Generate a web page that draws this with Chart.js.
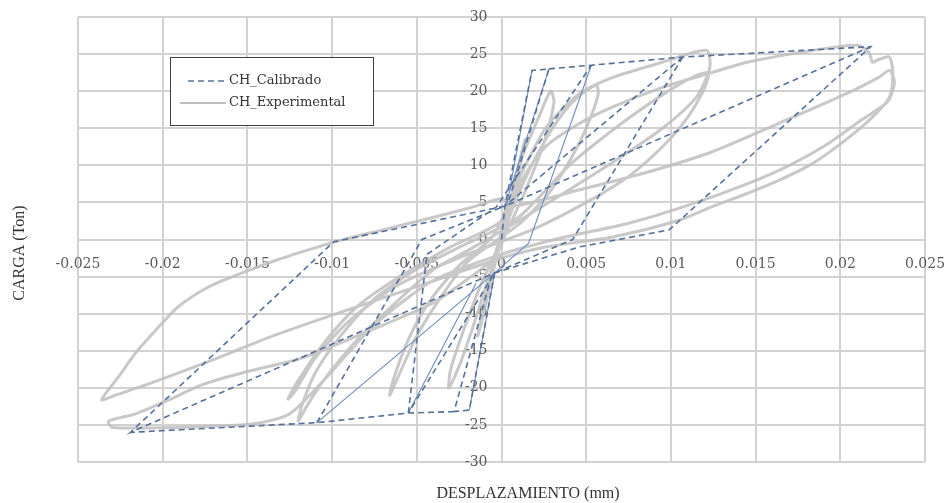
<!DOCTYPE html>
<html>
<head>
<meta charset="utf-8">
<script src="https://cdn.jsdelivr.net/npm/chart.js@4.4.1/dist/chart.umd.min.js"></script>
<style>
html,body{margin:0;padding:0;background:#fff;}
#c{display:block;}
</style>
</head>
<body>
<canvas id="c" width="948" height="503"></canvas>
<script>
// ---- axis ticks ----
const xTicks = [-0.025, -0.02, -0.015, -0.01, -0.005, 0, 0.005, 0.01, 0.015, 0.02, 0.025];
const yTicks = [-30, -25, -20, -15, -10, -5, 0, 5, 10, 15, 20, 25, 30];

// ---- CH_Experimental (gray hysteresis loops) ----
const expCycle1 = [[0,0],[0.0004,4],[0.0009,9],[0.0014,13.5],[0.0012,11],[0.0007,5.5],[0.0002,1.5],[-0.0004,-3.5],[-0.0009,-8.5],[-0.0014,-13],[-0.0012,-10.5],[-0.0007,-5],[-0.0002,-0.5]];
const expCycle2 = [[0.0004,4],[0.0012,11],[0.0022,16.5],[0.0029,20],[0.0031,18.5],[0.0025,13],[0.0014,6.5],[0.0003,1],[-0.0006,-4],[-0.0015,-10.5],[-0.0024,-16.5],[-0.0031,-20],[-0.003,-17.5],[-0.0022,-12],[-0.0012,-6],[-0.0002,-1]];
const expCycle3 = [[0.0008,5],[0.002,11],[0.0033,16],[0.0045,19.2],[0.0056,20.8],[0.0057,19.5],[0.005,15],[0.004,10.5],[0.0027,6],[0.001,2],[-0.002,-3],[-0.0035,-7.5],[-0.005,-13],[-0.006,-18],[-0.0066,-21],[-0.0064,-19],[-0.0055,-13.5],[-0.0043,-8.5],[-0.0025,-3.5],[-0.0005,0.5]];
const expCycle4 = [[0.0012,9],[0.0026,15],[0.0045,19.5],[0.0065,21.8],[0.0095,23.9],[0.0121,25.5],[0.0123,23.2],[0.0115,19.2],[0.0095,15],[0.0065,10.3],[0.0035,6],[0.001,2.5],[-0.002,-1.5],[-0.004,-4],[-0.006,-8],[-0.0085,-13.5],[-0.0105,-19],[-0.0115,-22.5],[-0.012,-24.5],[-0.0118,-22.5],[-0.011,-18],[-0.0095,-13],[-0.0075,-8],[-0.005,-4],[-0.002,-0.5],[0.001,3]];
const expCycle5 = [[0.004,10],[0.007,15.5],[0.0095,19.5],[0.0112,21.8],[0.0122,22.5],[0.012,20.5],[0.011,16.5],[0.0095,12.5],[0.0075,8.5],[0.005,5],[0.002,1.5],[-0.002,-2],[-0.006,-6],[-0.009,-11],[-0.011,-16],[-0.0122,-20.5],[-0.0126,-21.5],[-0.012,-19],[-0.0105,-14],[-0.0085,-9],[-0.006,-5],[-0.003,-1],[0,2.5]];
const expCycle6 = [[0.0012,8],[0.0026,12.5],[0.0045,15.5],[0.0065,17.8],[0.0095,20.5],[0.0124,22.5],[0.0145,23.9],[0.0184,25.5],[0.021,26.2],[0.0217,25.2],[0.0219,23.9],[0.0223,24.3],[0.0229,24.6],[0.0231,22.4],[0.0229,19.2],[0.0219,16.5],[0.0203,13.4],[0.0184,10.3],[0.0164,8],[0.0145,6.2],[0.0124,4.4],[0.0105,2.6],[0.0065,0.3],[0.0026,-1],[0,-2.5],[-0.003,-4.8],[-0.0065,-7.5],[-0.01,-10.2],[-0.0135,-13],[-0.017,-16.2],[-0.0205,-19.2],[-0.0228,-21],[-0.0236,-21.6],[-0.0226,-18.5],[-0.0216,-15.3],[-0.0204,-12.2],[-0.0191,-9.1],[-0.0173,-6.4],[-0.0153,-4.5],[-0.0133,-2.8],[-0.0114,-1.4],[-0.0098,-0.3],[-0.007,1.3],[-0.004,3],[-0.0015,4.5],[0,5.5]];
const expCycle7 = [[0.0007,4.5],[0.0046,6.7],[0.0085,9],[0.0124,11.8],[0.0164,15.7],[0.0203,19.6],[0.0223,21.9],[0.0229,22.8],[0.0232,21.2],[0.0228,18.6],[0.0213,16.2],[0.0192,12.8],[0.017,10],[0.0145,7.5],[0.011,4.6],[0.0075,2.2],[0.0035,0.2],[0,-2],[-0.004,-5.5],[-0.0075,-11.5],[-0.0105,-19],[-0.0125,-23.5],[-0.0145,-24.8],[-0.0175,-25.2],[-0.0205,-25.4],[-0.023,-25.3],[-0.0232,-24.5],[-0.0216,-23.5],[-0.0196,-21.6],[-0.0177,-19.6],[-0.015,-17.8],[-0.0118,-16],[-0.008,-12.5],[-0.004,-8.5],[-0.0015,-4.5],[0,-2]];

// ---- CH_Calibrado (dashed model branches; null = break) ----
const calBranchA = [[0,0],[0.0002,4.5],[0.0018,22.8],[0.0028,23.0],[0.0004,5]];
const calBranchB = [[-0.0004,-4.5],[-0.0019,-23.0],[-0.0028,-23.2],[-0.0006,-5]];
const calBranchC = [[0.0028,23.0],[0.0053,23.5],[0.0107,24.6],[0.0218,26],[0.0099,1.3],[0.0046,-1],[-0.0004,-4.5],[-0.0219,-26],[-0.0099,-0.3],[0.0002,4.5],[0.0218,26]];
const calBranchD = [[-0.0028,-23.2],[-0.0055,-23.4],[-0.0109,-24.7],[-0.0219,-26]];
const calBranchE = [[-0.0055,-23.4],[-0.0044,-2],[-0.0003,4.4],[0.0053,23.5]];
const calBranchF = [[0.0107,24.6],[0.0002,4.5]];
const calBranchG = [[0.0107,24.6],[0.0042,0],[-0.0004,-4.5],[-0.0055,-23.4]];
const calBranchH = [[-0.0109,-24.7],[-0.0047,0],[0.0002,4.5]];
// thin solid branches of the model
const calSolid = [[0.0018,22.8],[0.0003,4.5],null,[0.0053,23.5],[0.0016,-0.5],[-0.0004,-4.5],null,[-0.0109,-24.7],[-0.0004,-4.5],null,[-0.0055,-23.4],[-0.0015,-5.9],null,[-0.0019,-23],[-0.0004,-4.5],null,[0.0028,23.0],[0.0002,4.5]];

const joinBranches = list => list.reduce((acc, b, i) => i ? acc.concat([null], b) : acc.concat(b), []);
const calPath = joinBranches([calBranchA, calBranchB, calBranchC, calBranchD, calBranchE, calBranchF, calBranchG, calBranchH]);
const expPath = [].concat(expCycle1, expCycle2, expCycle3, expCycle4, expCycle5, expCycle6, expCycle7);
const toXY = arr => arr.map(p => p === null ? {x: null, y: null} : {x: p[0], y: p[1]});

const gridColor = '#d2d2d2';
const tickColor = '#595959';

const overlay = {
  id: 'overlay',
  afterDraw(chart) {
    const ctx = chart.ctx;
    ctx.save();
    // legend box
    ctx.fillStyle = '#ffffff';
    ctx.fillRect(170, 57, 203, 68);
    ctx.strokeStyle = '#404040';
    ctx.lineWidth = 1;
    ctx.strokeRect(170.5, 57.5, 203, 68);
    ctx.strokeStyle = '#55709a';
    ctx.lineWidth = 1.5;
    ctx.setLineDash([6, 4]);
    ctx.beginPath(); ctx.moveTo(188, 81); ctx.lineTo(227, 81); ctx.stroke();
    ctx.setLineDash([]);
    ctx.strokeStyle = '#a8a8a8';
    ctx.lineWidth = 1.5;
    ctx.beginPath(); ctx.moveTo(180, 103); ctx.lineTo(226, 103); ctx.stroke();
    ctx.fillStyle = '#333333';
    ctx.font = '13px "DejaVu Serif"';
    ctx.textBaseline = 'middle';
    ctx.textAlign = 'left';
    ctx.fillText(chart.data.datasets[0].label, 229, 81);
    ctx.fillText(chart.data.datasets[1].label, 229, 103);
    // axis titles
    ctx.font = '16px "Liberation Serif"';
    ctx.fillStyle = '#333333';
    ctx.textAlign = 'center';
    ctx.fillText('DESPLAZAMIENTO (mm)', 528, 494);
    ctx.translate(20, 253);
    ctx.rotate(-Math.PI / 2);
    ctx.fillText('CARGA (Ton)', 0, 0);
    ctx.restore();
  }
};

new Chart(document.getElementById('c'), {
  type: 'scatter',
  data: {
    datasets: [
      { label: 'CH_Calibrado', data: toXY(calPath), showLine: true, spanGaps: false, borderColor: '#55709a', borderWidth: 1.6, borderDash: [6, 4], pointRadius: 0, order: 1 },
      { label: 'CH_Experimental', data: toXY(expPath), showLine: true, borderColor: 'rgba(190,190,190,0.85)', borderWidth: 3, pointRadius: 0, tension: 0.25, order: 3 },
      { label: 'calSolid', data: toXY(calSolid), showLine: true, spanGaps: false, borderColor: '#6d8bbd', borderWidth: 1.1, pointRadius: 0, order: 2 }
    ]
  },
  options: {
    responsive: false,
    animation: false,
    layout: { padding: { left: 78, right: 23, top: 17, bottom: 41 } },
    plugins: { legend: { display: false }, tooltip: { enabled: false } },
    scales: {
      x: {
        type: 'linear', min: -0.025, max: 0.025,
        position: { y: 0 },
        afterBuildTicks: s => { s.ticks = xTicks.map(v => ({ value: v })); },
        afterFit: s => { s.paddingLeft = 0; s.paddingRight = 0; },
        ticks: { color: tickColor, font: { family: 'DejaVu Serif', size: 14 }, padding: 16, maxRotation: 0, autoSkip: false,
                 callback: v => String(Number(v.toFixed(3))) },
        grid: { color: gridColor, lineWidth: 2, drawTicks: false },
        border: { display: false }
      },
      y: {
        type: 'linear', min: -30, max: 30,
        position: { x: 0 },
        afterBuildTicks: s => { s.ticks = yTicks.map(v => ({ value: v })); },
        afterFit: s => { s.paddingTop = 0; s.paddingBottom = 0; },
        ticks: { color: tickColor, font: { family: 'DejaVu Serif', size: 14 }, padding: 15, autoSkip: false,
                 callback: v => String(v) + '\u2002\u2002' },
        grid: { color: gridColor, lineWidth: 2, drawTicks: false },
        border: { display: false }
      }
    }
  },
  plugins: [overlay]
});
</script>
</body>
</html>
